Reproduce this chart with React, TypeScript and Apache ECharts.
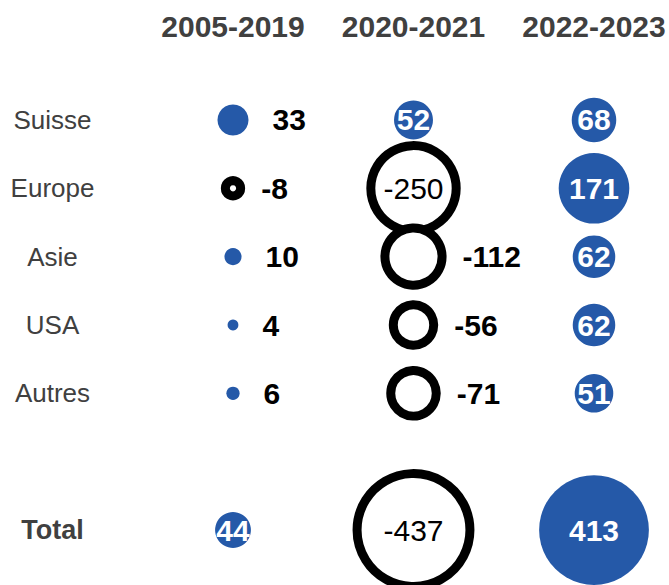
import React, { useEffect, useRef } from "react";
import * as echarts from "echarts";

const periods = ["2005-2019", "2020-2021", "2022-2023"];
const regions = ["Suisse", "Europe", "Asie", "USA", "Autres", "", "Total"];
const values2005 = [33, -8, 10, 4, 6, null, 44];
const values2020 = [52, -250, -112, -56, -71, null, -437];
const values2022 = [68, 171, 62, 62, 51, null, 413];

const BLUE = "#2559A8";
const FONT = "Liberation Sans, Arial, sans-serif";

function buildData() {
  const cols = [values2005, values2020, values2022];
  const out: any[] = [];
  cols.forEach((col, i) => {
    col.forEach((v, j) => {
      if (v === null) return;
      const neg = v < 0;
      const inside = v >= 40 || v <= -200;
      out.push({
        value: [i, j, v],
        symbolSize: 5.4 * Math.sqrt(Math.abs(v)),
        itemStyle: neg
          ? { color: "#ffffff", borderColor: "#000000", borderWidth: 9, opacity: 1 }
          : { color: BLUE, borderWidth: 0, opacity: 1 },
        label: {
          show: true,
          position: inside ? "inside" : "right",
          distance: neg ? 16 : 24,
          formatter: String(v),
          fontFamily: FONT,
          fontSize: 30,
          fontWeight: inside && neg ? "normal" : "bold",
          color: inside && !neg ? "#ffffff" : "#000000",
        },
      });
    });
  });
  return out;
}

export default function App() {
  const ref = useRef<HTMLDivElement>(null);
  useEffect(() => {
    if (!ref.current) return;
    const chart = echarts.init(ref.current, null, { renderer: "svg" });
    chart.setOption({
      animation: false,
      backgroundColor: "#ffffff",
      grid: { left: 233, right: 75, top: 85.8, bottom: 20.8 },
      xAxis: {
        type: "category",
        data: periods,
        position: "top",
        boundaryGap: false,
        axisLine: { show: false },
        axisTick: { show: false },
        splitLine: { show: false },
        axisLabel: {
          interval: 0,
          hideOverlap: false,
          margin: 44,
          fontFamily: FONT,
          fontSize: 30,
          fontWeight: "bold",
          color: "#404040",
        },
      },
      yAxis: {
        type: "category",
        data: regions,
        inverse: true,
        axisLine: { show: false },
        axisTick: { show: false },
        splitLine: { show: false },
        axisLabel: {
          interval: 0,
          margin: 180.5,
          align: "center",
          fontFamily: FONT,
          fontSize: 26,
          color: "#404040",
          formatter: (v: string) => (v === "Total" ? `{b|${v}}` : v),
          rich: {
            b: { fontFamily: FONT, fontSize: 27, fontWeight: "bold", color: "#404040" },
          },
        },
      },
      series: [
        {
          type: "scatter",
          clip: false,
          itemStyle: { opacity: 1 },
          data: buildData(),
        },
      ],
    });
    return () => chart.dispose();
  }, []);
  return (
    <div
      ref={ref}
      style={{ position: "absolute", left: 0, top: 0, width: 669, height: 585 }}
    />
  );
}
